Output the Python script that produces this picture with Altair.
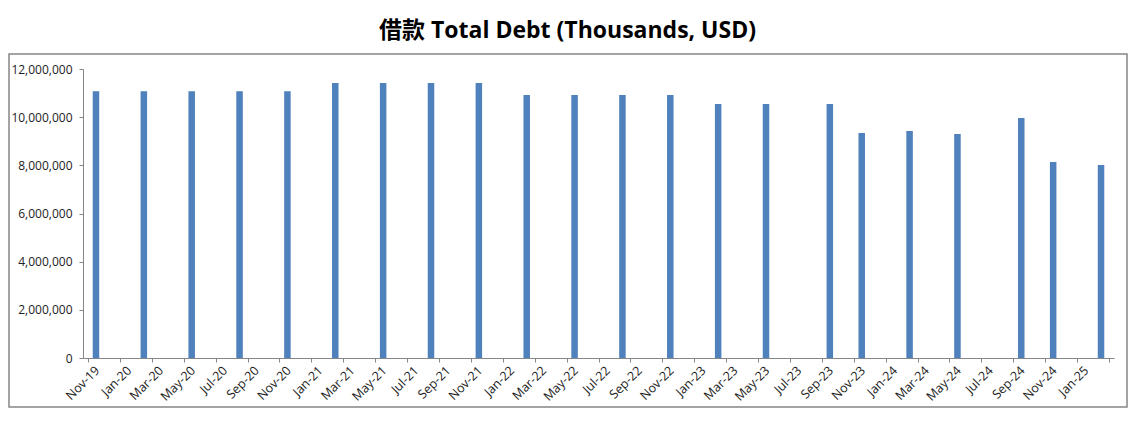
import json
import altair as alt
import pandas as pd

# Data
months = ["2019-11", "2020-02", "2020-05", "2020-08", "2020-11", "2021-02", "2021-05",
          "2021-08", "2021-11", "2022-02", "2022-05", "2022-08", "2022-11", "2023-02",
          "2023-05", "2023-09", "2023-11", "2024-02", "2024-05", "2024-09", "2024-11",
          "2025-02"]
debt = [11080000, 11080000, 11080000, 11080000, 11080000, 11420000, 11420000,
        11420000, 11420000, 10920000, 10920000, 10920000, 10920000, 10550000,
        10550000, 10550000, 9340000, 9430000, 9300000, 9970000, 8140000,
        8010000]
tick_labels = ["Nov-19", "Jan-20", "Mar-20", "May-20", "Jul-20", "Sep-20", "Nov-20",
               "Jan-21", "Mar-21", "May-21", "Jul-21", "Sep-21", "Nov-21", "Jan-22",
               "Mar-22", "May-22", "Jul-22", "Sep-22", "Nov-22", "Jan-23", "Mar-23",
               "May-23", "Jul-23", "Sep-23", "Nov-23", "Jan-24", "Mar-24", "May-24",
               "Jul-24", "Sep-24", "Nov-24", "Jan-25"]

df = pd.DataFrame({"month": months, "debt": debt})
df["idx"] = df["month"].apply(lambda m: (int(m[:4]) - 2019) * 12 + int(m[5:]) - 11 + 0.5)

n_slots = 64
label_js = json.dumps(tick_labels)
label_expr = f"datum.value < {n_slots} ? {label_js}[datum.value / 2] : ''"

FONT = "Open Sans"
AX = "#868686"
TXT = "#222222"

bars = alt.Chart(df).mark_bar(size=6.5, color="#4F81BD").encode(
    x=alt.X("idx:Q",
            scale=alt.Scale(domain=[0, n_slots], nice=False, zero=False),
            axis=alt.Axis(values=list(range(0, n_slots + 1, 2)), labelExpr=label_expr,
                          labelAngle=-45, labelOffset=9, title=None, grid=False,
                          tickSize=4, domainColor=AX, tickColor=AX, labelFont=FONT,
                          labelFontSize=12.5, labelColor=TXT, labelPadding=6,
                          labelAlign="right", labelBaseline="middle",
                          labelOverlap=False, labelBound=False)),
    y=alt.Y("debt:Q",
            scale=alt.Scale(domain=[0, 12000000], nice=False),
            axis=alt.Axis(values=list(range(0, 12000001, 2000000)), format=",.0f",
                          title=None, grid=False, tickSize=4, domainColor=AX,
                          tickColor=AX, labelFont=FONT, labelFontSize=12,
                          labelColor=TXT, labelPadding=7, labelOverlap=False)),
)

border = alt.Chart(alt.Data(values=[{"a": 1}])).mark_rect(
    fillOpacity=0, stroke=AX, strokeWidth=1.5
).encode(x=alt.value(-74), x2=alt.value(1044), y=alt.value(-15), y2=alt.value(338))

chart = alt.layer(border, bars).properties(
    width=1031,
    height=289,
    title=alt.TitleParams(text="借款 Total Debt (Thousands, USD)",
                          font="Open Sans, Noto Sans CJK SC", fontSize=23,
                          fontWeight="bold", color="black", anchor="middle",
                          dx=-31, offset=10),
    padding={"left": 75, "top": 61, "right": 15, "bottom": 50},
    autosize=alt.AutoSizeParams(type="none"),
).configure_view(strokeWidth=0)

chart.save("out.html", embed_options={"renderer": "svg", "actions": False})
